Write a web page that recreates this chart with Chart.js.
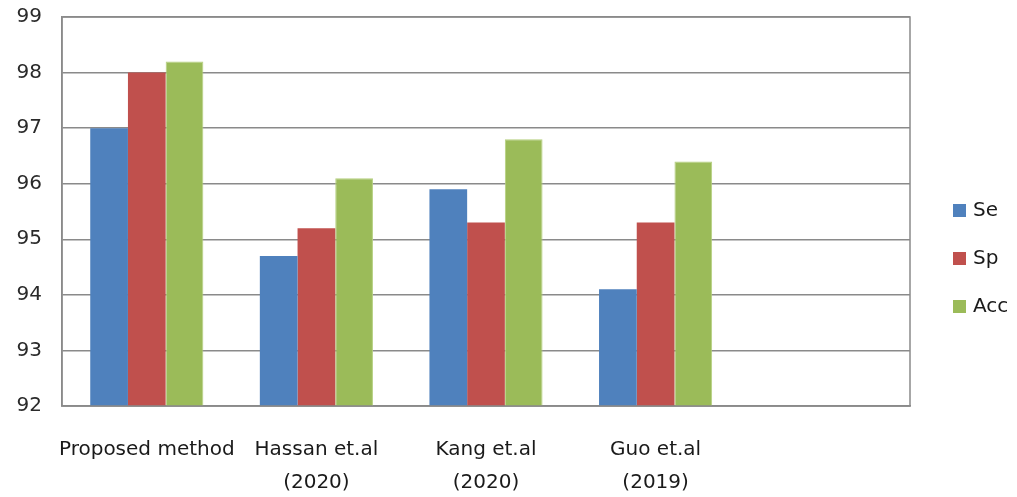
<!DOCTYPE html>
<html>
<head>
<meta charset="utf-8">
<script src="https://cdn.jsdelivr.net/npm/chart.js@4"></script>
<style>
  html, body { margin: 0; padding: 0; background: #fff; }
  #wrap { width: 1017px; height: 497px; }
</style>
</head>
<body>
<div id="wrap"><canvas id="c" width="1017" height="497"></canvas></div>
<script>
// Methods compared (last slot left empty)
const categories = [
  'Proposed method',
  ['Hassan et.al', '(2020)'],
  ['Kang et.al', '(2020)'],
  ['Guo et.al', '(2019)'],
  ''
];
const seValues  = [97.0, 94.7, 95.9, 94.1, null];
const spValues  = [98.0, 95.2, 95.3, 95.3, null];
const accValues = [98.2, 96.1, 96.8, 96.4, null];
const yTicks = [92, 93, 94, 95, 96, 97, 98, 99];

const FONT = 'DejaVu Sans';

// Frame around the plot area
const framePlugin = {
  id: 'frame',
  afterDatasetsDraw(chart) {
    const { ctx, chartArea: a } = chart;
    ctx.save();
    ctx.strokeStyle = '#8a8a8a';
    ctx.lineWidth = 1.5;
    ctx.strokeRect(a.left, a.top, a.right - a.left, a.bottom - a.top);
    ctx.restore();
  }
};

// Legend stacked vertically on the right
const sideLegend = {
  id: 'sideLegend',
  afterDraw(chart) {
    const { ctx } = chart;
    const items = chart.data.datasets;
    const x = 953, ys = [210, 258, 306];
    ctx.save();
    ctx.font = '20px "' + FONT + '"';
    ctx.textBaseline = 'middle';
    items.forEach((ds, i) => {
      ctx.fillStyle = ds.backgroundColor;
      ctx.fillRect(x, ys[i] - 6, 13, 13);
      ctx.fillStyle = '#1a1a1a';
      ctx.fillText(ds.label, x + 20, ys[i] + 1);
    });
    ctx.restore();
  }
};

new Chart(document.getElementById('c'), {
  type: 'bar',
  data: {
    labels: categories,
    datasets: [
      { label: 'Se',  data: seValues,  backgroundColor: '#4F81BD', borderWidth: 0 },
      { label: 'Sp',  data: spValues,  backgroundColor: '#C0504D', borderWidth: 0 },
      { label: 'Acc', data: accValues, backgroundColor: '#9BBB59', borderColor: '#b5d07f', borderWidth: 1 }
    ]
  },
  options: {
    responsive: false,
    animation: false,
    devicePixelRatio: 1,
    layout: { padding: { top: 17, right: 107, left: 0, bottom: 0 } },
    datasets: { bar: { categoryPercentage: 0.667, barPercentage: 1.0 } },
    plugins: {
      legend: { display: false },
      tooltip: { enabled: false }
    },
    scales: {
      x: {
        grid: { display: false, drawTicks: false },
        border: { display: true, color: '#8a8a8a', width: 1.5 },
        ticks: {
          color: '#1a1a1a',
          font: { family: FONT, size: 20, lineHeight: 1.65 },
          padding: 27,
          maxRotation: 0,
          autoSkip: false
        },
        afterFit(s) { s.height = 91; s.paddingLeft = 0; s.paddingRight = 0; }
      },
      y: {
        min: 92,
        max: 99,
        afterBuildTicks(s) { s.ticks = yTicks.map(v => ({ value: v })); },
        grid: { color: '#8a8a8a', lineWidth: 1.5, drawTicks: false },
        border: { display: true, color: '#8a8a8a', width: 1.5 },
        ticks: {
          color: '#2a2a2a',
          font: { family: FONT, size: 20 },
          padding: 20
        },
        afterFit(s) { s.width = 62; s.paddingTop = 0; s.paddingBottom = 0; }
      }
    }
  },
  plugins: [framePlugin, sideLegend]
});
</script>
</body>
</html>
